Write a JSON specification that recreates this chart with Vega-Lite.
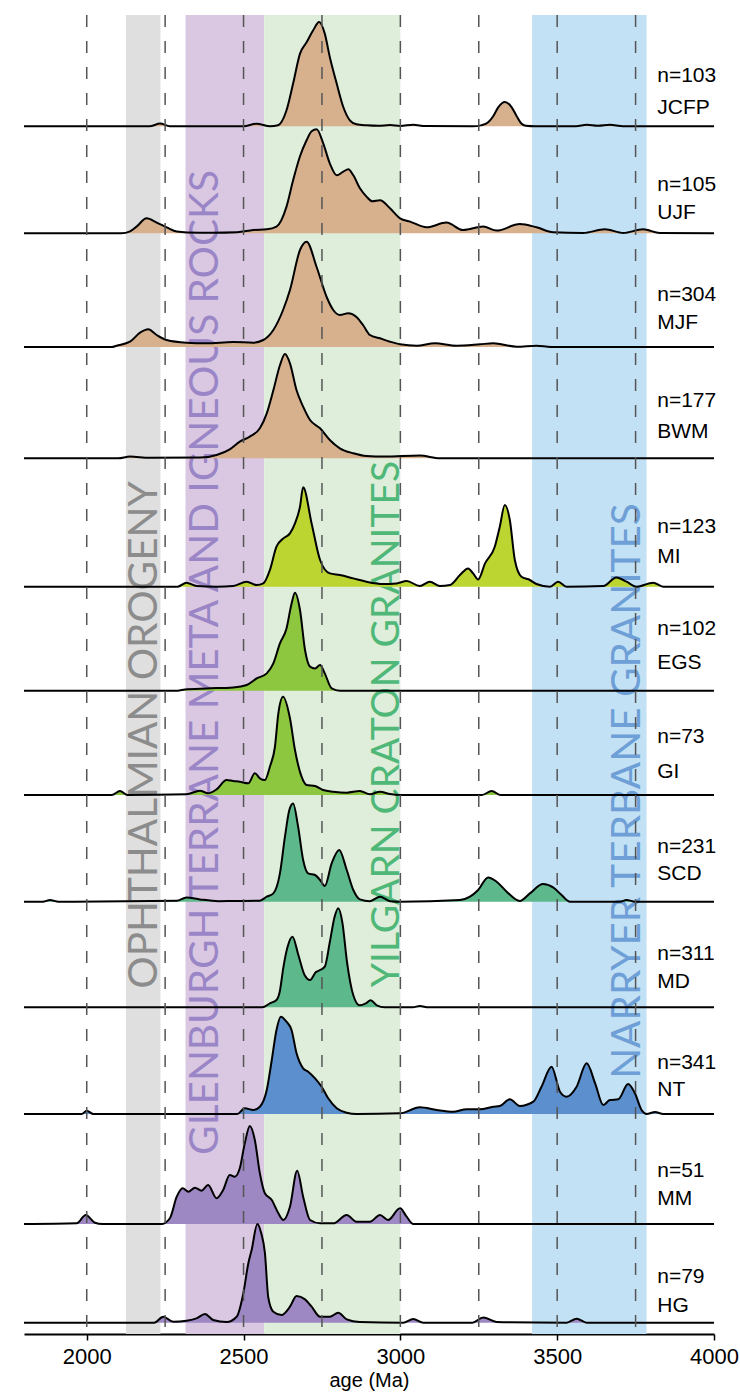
{
  "$schema": "https://vega.github.io/schema/vega-lite/v6.json",
  "width": 690,
  "height": 1319,
  "autosize": {"type": "none"},
  "padding": {"left": 24, "top": 15, "right": 26, "bottom": 62},
  "background": "white",
  "config": {
    "view": {"stroke": null},
    "axisX": {
      "grid": false,
      "domainColor": "black",
      "domainWidth": 2,
      "tickColor": "black",
      "tickWidth": 1.5,
      "tickSize": 6,
      "labelFlush": false,
      "labelFont": "Liberation Sans",
      "labelFontSize": 22,
      "labelColor": "black",
      "labelPadding": 6,
      "titleFont": "Liberation Sans",
      "titleFontSize": 20,
      "titleFontWeight": "normal",
      "titleColor": "black",
      "titlePadding": 3
    },
    "text": {"font": "Liberation Sans", "fontSize": 21, "color": "black", "align": "left", "baseline": "middle"}
  },
  "datasets": {
    "bands": [
      {"band": "OPHTHALMIAN OROGENY", "start": 2125, "end": 2235},
      {"band": "GLENBURGH TERRANE META AND IGNEOUS ROCKS", "start": 2315, "end": 2566},
      {"band": "YILGARN CRATON GRANITES", "start": 2566, "end": 3000},
      {"band": "NARRYER TERBANE GRANITES", "start": 3420, "end": 3785}
    ],
    "refs": [
      {"age": 2000}, {"age": 2250}, {"age": 2500}, {"age": 2750},
      {"age": 3000}, {"age": 3250}, {"age": 3500}, {"age": 3750}
    ],
    "samples": [
      {"sample": "JCFP", "n": "n=103"}, {"sample": "UJF", "n": "n=105"},
      {"sample": "MJF", "n": "n=304"}, {"sample": "BWM", "n": "n=177"},
      {"sample": "MI", "n": "n=123"}, {"sample": "EGS", "n": "n=102"},
      {"sample": "GI", "n": "n=73"}, {"sample": "SCD", "n": "n=231"},
      {"sample": "MD", "n": "n=311"}, {"sample": "NT", "n": "n=341"},
      {"sample": "MM", "n": "n=51"}, {"sample": "HG", "n": "n=79"}
    ],
    "curves": [
      {"sample":"JCFP","age":1800,"density":0},{"sample":"JCFP","age":2200,"density":0},{"sample":"JCFP","age":2234,"density":0.027},{"sample":"JCFP","age":2265,"density":0},{"sample":"JCFP","age":2500,"density":0},{"sample":"JCFP","age":2541,"density":0.025},{"sample":"JCFP","age":2585,"density":0},{"sample":"JCFP","age":2610,"density":0.01},{"sample":"JCFP","age":2637,"density":0.16},{"sample":"JCFP","age":2658,"density":0.427},{"sample":"JCFP","age":2680,"density":0.727},{"sample":"JCFP","age":2701,"density":0.84},{"sample":"JCFP","age":2722,"density":0.96},{"sample":"JCFP","age":2741,"density":1.043},{"sample":"JCFP","age":2759,"density":0.927},{"sample":"JCFP","age":2775,"density":0.693},{"sample":"JCFP","age":2797,"density":0.427},{"sample":"JCFP","age":2818,"density":0.193},{"sample":"JCFP","age":2839,"density":0.06},{"sample":"JCFP","age":2860,"density":0.02},{"sample":"JCFP","age":2892,"density":0.01},{"sample":"JCFP","age":2930,"density":0.005},{"sample":"JCFP","age":2967,"density":0.012},{"sample":"JCFP","age":3000,"density":0.004},{"sample":"JCFP","age":3041,"density":0.015},{"sample":"JCFP","age":3080,"density":0.002},{"sample":"JCFP","age":3230,"density":0},{"sample":"JCFP","age":3260,"density":0.012},{"sample":"JCFP","age":3280,"density":0.04},{"sample":"JCFP","age":3296,"density":0.1},{"sample":"JCFP","age":3312,"density":0.19},{"sample":"JCFP","age":3333,"density":0.243},{"sample":"JCFP","age":3355,"density":0.19},{"sample":"JCFP","age":3371,"density":0.1},{"sample":"JCFP","age":3385,"density":0.03},{"sample":"JCFP","age":3400,"density":0.005},{"sample":"JCFP","age":3430,"density":0},{"sample":"JCFP","age":3560,"density":0},{"sample":"JCFP","age":3594,"density":0.015},{"sample":"JCFP","age":3630,"density":0.005},{"sample":"JCFP","age":3668,"density":0.015},{"sample":"JCFP","age":3710,"density":0},{"sample":"JCFP","age":4000,"density":0},

      {"sample":"UJF","age":1800,"density":0},{"sample":"UJF","age":2110,"density":0},{"sample":"UJF","age":2138,"density":0.02},{"sample":"UJF","age":2159,"density":0.067},{"sample":"UJF","age":2191,"density":0.15},{"sample":"UJF","age":2223,"density":0.107},{"sample":"UJF","age":2255,"density":0.06},{"sample":"UJF","age":2287,"density":0.017},{"sample":"UJF","age":2320,"density":0.008},{"sample":"UJF","age":2400,"density":0.005},{"sample":"UJF","age":2480,"density":0.01},{"sample":"UJF","age":2531,"density":0.033},{"sample":"UJF","age":2574,"density":0.04},{"sample":"UJF","age":2605,"density":0.067},{"sample":"UJF","age":2637,"density":0.267},{"sample":"UJF","age":2658,"density":0.53},{"sample":"UJF","age":2680,"density":0.77},{"sample":"UJF","age":2701,"density":0.93},{"sample":"UJF","age":2717,"density":1.02},{"sample":"UJF","age":2733,"density":1.04},{"sample":"UJF","age":2754,"density":0.9},{"sample":"UJF","age":2775,"density":0.7},{"sample":"UJF","age":2797,"density":0.58},{"sample":"UJF","age":2818,"density":0.617},{"sample":"UJF","age":2834,"density":0.64},{"sample":"UJF","age":2850,"density":0.58},{"sample":"UJF","age":2871,"density":0.45},{"sample":"UJF","age":2892,"density":0.367},{"sample":"UJF","age":2910,"density":0.32},{"sample":"UJF","age":2935,"density":0.33},{"sample":"UJF","age":2967,"density":0.25},{"sample":"UJF","age":2999,"density":0.15},{"sample":"UJF","age":3031,"density":0.117},{"sample":"UJF","age":3084,"density":0.06},{"sample":"UJF","age":3147,"density":0.107},{"sample":"UJF","age":3200,"density":0.033},{"sample":"UJF","age":3264,"density":0.067},{"sample":"UJF","age":3307,"density":0.027},{"sample":"UJF","age":3381,"density":0.093},{"sample":"UJF","age":3434,"density":0.06},{"sample":"UJF","age":3487,"density":0.01},{"sample":"UJF","age":3583,"density":0.003},{"sample":"UJF","age":3652,"density":0.04},{"sample":"UJF","age":3711,"density":0.003},{"sample":"UJF","age":3774,"density":0.04},{"sample":"UJF","age":3827,"density":0.003},{"sample":"UJF","age":4000,"density":0},

      {"sample":"MJF","age":1800,"density":0},{"sample":"MJF","age":2080,"density":0},{"sample":"MJF","age":2095,"density":0.013},{"sample":"MJF","age":2138,"density":0.053},{"sample":"MJF","age":2170,"density":0.143},{"sample":"MJF","age":2196,"density":0.177},{"sample":"MJF","age":2223,"density":0.12},{"sample":"MJF","age":2255,"density":0.07},{"sample":"MJF","age":2318,"density":0.043},{"sample":"MJF","age":2382,"density":0.037},{"sample":"MJF","age":2467,"density":0.05},{"sample":"MJF","age":2531,"density":0.043},{"sample":"MJF","age":2563,"density":0.07},{"sample":"MJF","age":2595,"density":0.17},{"sample":"MJF","age":2626,"density":0.37},{"sample":"MJF","age":2648,"density":0.57},{"sample":"MJF","age":2680,"density":0.97},{"sample":"MJF","age":2701,"density":1.053},{"sample":"MJF","age":2733,"density":0.8},{"sample":"MJF","age":2765,"density":0.5},{"sample":"MJF","age":2786,"density":0.37},{"sample":"MJF","age":2807,"density":0.32},{"sample":"MJF","age":2834,"density":0.337},{"sample":"MJF","age":2860,"density":0.3},{"sample":"MJF","age":2881,"density":0.22},{"sample":"MJF","age":2903,"density":0.12},{"sample":"MJF","age":2935,"density":0.087},{"sample":"MJF","age":2967,"density":0.053},{"sample":"MJF","age":2999,"density":0.027},{"sample":"MJF","age":3052,"density":0.013},{"sample":"MJF","age":3110,"density":0.037},{"sample":"MJF","age":3179,"density":0.013},{"sample":"MJF","age":3254,"density":0.027},{"sample":"MJF","age":3296,"density":0.037},{"sample":"MJF","age":3371,"density":0.003},{"sample":"MJF","age":3434,"density":0.013},{"sample":"MJF","age":3480,"density":0},{"sample":"MJF","age":4000,"density":0},

      {"sample":"BWM","age":1800,"density":0},{"sample":"BWM","age":2100,"density":0},{"sample":"BWM","age":2138,"density":0.017},{"sample":"BWM","age":2200,"density":0.005},{"sample":"BWM","age":2361,"density":0.007},{"sample":"BWM","age":2414,"density":0.033},{"sample":"BWM","age":2456,"density":0.09},{"sample":"BWM","age":2488,"density":0.167},{"sample":"BWM","age":2520,"density":0.217},{"sample":"BWM","age":2552,"density":0.3},{"sample":"BWM","age":2574,"density":0.45},{"sample":"BWM","age":2595,"density":0.68},{"sample":"BWM","age":2616,"density":0.93},{"sample":"BWM","age":2632,"density":1.043},{"sample":"BWM","age":2648,"density":0.95},{"sample":"BWM","age":2669,"density":0.68},{"sample":"BWM","age":2690,"density":0.517},{"sample":"BWM","age":2712,"density":0.383},{"sample":"BWM","age":2744,"density":0.3},{"sample":"BWM","age":2775,"density":0.183},{"sample":"BWM","age":2807,"density":0.1},{"sample":"BWM","age":2850,"density":0.05},{"sample":"BWM","age":2892,"density":0.023},{"sample":"BWM","age":2950,"density":0.017},{"sample":"BWM","age":3062,"density":0.027},{"sample":"BWM","age":3126,"density":0},{"sample":"BWM","age":4000,"density":0},

      {"sample":"MI","age":1800,"density":0},{"sample":"MI","age":2290,"density":0},{"sample":"MI","age":2318,"density":0.04},{"sample":"MI","age":2350,"density":0.007},{"sample":"MI","age":2414,"density":0},{"sample":"MI","age":2467,"density":0.007},{"sample":"MI","age":2510,"density":0.05},{"sample":"MI","age":2542,"density":0.017},{"sample":"MI","age":2563,"density":0.033},{"sample":"MI","age":2584,"density":0.167},{"sample":"MI","age":2605,"density":0.4},{"sample":"MI","age":2627,"density":0.483},{"sample":"MI","age":2648,"density":0.533},{"sample":"MI","age":2664,"density":0.633},{"sample":"MI","age":2680,"density":0.8},{"sample":"MI","age":2690,"density":0.994},{"sample":"MI","age":2717,"density":0.633},{"sample":"MI","age":2744,"density":0.267},{"sample":"MI","age":2775,"density":0.133},{"sample":"MI","age":2807,"density":0.117},{"sample":"MI","age":2850,"density":0.083},{"sample":"MI","age":2892,"density":0.05},{"sample":"MI","age":2945,"density":0.027},{"sample":"MI","age":2988,"density":0.033},{"sample":"MI","age":3020,"density":0.057},{"sample":"MI","age":3062,"density":0.007},{"sample":"MI","age":3094,"density":0.05},{"sample":"MI","age":3126,"density":0.007},{"sample":"MI","age":3158,"density":0.017},{"sample":"MI","age":3190,"density":0.117},{"sample":"MI","age":3216,"density":0.183},{"sample":"MI","age":3232,"density":0.133},{"sample":"MI","age":3248,"density":0.073},{"sample":"MI","age":3270,"density":0.233},{"sample":"MI","age":3301,"density":0.4},{"sample":"MI","age":3317,"density":0.6},{"sample":"MI","age":3333,"density":0.817},{"sample":"MI","age":3349,"density":0.667},{"sample":"MI","age":3365,"density":0.267},{"sample":"MI","age":3386,"density":0.1},{"sample":"MI","age":3413,"density":0.067},{"sample":"MI","age":3434,"density":0.027},{"sample":"MI","age":3477,"density":0},{"sample":"MI","age":3503,"density":0.05},{"sample":"MI","age":3530,"density":0},{"sample":"MI","age":3647,"density":0.007},{"sample":"MI","age":3689,"density":0.093},{"sample":"MI","age":3721,"density":0.05},{"sample":"MI","age":3753,"density":0},{"sample":"MI","age":3806,"density":0.04},{"sample":"MI","age":3838,"density":0},{"sample":"MI","age":4000,"density":0},

      {"sample":"EGS","age":1800,"density":0},{"sample":"EGS","age":2290,"density":0},{"sample":"EGS","age":2313,"density":0.013},{"sample":"EGS","age":2382,"density":0.023},{"sample":"EGS","age":2467,"density":0.033},{"sample":"EGS","age":2510,"density":0.057},{"sample":"EGS","age":2542,"density":0.123},{"sample":"EGS","age":2574,"density":0.173},{"sample":"EGS","age":2595,"density":0.273},{"sample":"EGS","age":2616,"density":0.473},{"sample":"EGS","age":2637,"density":0.623},{"sample":"EGS","age":2653,"density":0.87},{"sample":"EGS","age":2664,"density":0.98},{"sample":"EGS","age":2680,"density":0.807},{"sample":"EGS","age":2696,"density":0.407},{"sample":"EGS","age":2712,"density":0.24},{"sample":"EGS","age":2728,"density":0.223},{"sample":"EGS","age":2744,"density":0.257},{"sample":"EGS","age":2759,"density":0.173},{"sample":"EGS","age":2781,"density":0.023},{"sample":"EGS","age":2807,"density":0},{"sample":"EGS","age":4000,"density":0},

      {"sample":"GI","age":1800,"density":0},{"sample":"GI","age":2080,"density":0},{"sample":"GI","age":2106,"density":0.04},{"sample":"GI","age":2130,"density":0},{"sample":"GI","age":2318,"density":0.007},{"sample":"GI","age":2361,"density":0.043},{"sample":"GI","age":2387,"density":0.017},{"sample":"GI","age":2414,"density":0.057},{"sample":"GI","age":2446,"density":0.15},{"sample":"GI","age":2467,"density":0.14},{"sample":"GI","age":2488,"density":0.133},{"sample":"GI","age":2515,"density":0.117},{"sample":"GI","age":2536,"density":0.217},{"sample":"GI","age":2552,"density":0.167},{"sample":"GI","age":2568,"density":0.15},{"sample":"GI","age":2584,"density":0.283},{"sample":"GI","age":2600,"density":0.48},{"sample":"GI","age":2611,"density":0.817},{"sample":"GI","age":2626,"density":0.983},{"sample":"GI","age":2648,"density":0.767},{"sample":"GI","age":2664,"density":0.45},{"sample":"GI","age":2685,"density":0.183},{"sample":"GI","age":2701,"density":0.1},{"sample":"GI","age":2728,"density":0.09},{"sample":"GI","age":2754,"density":0.05},{"sample":"GI","age":2786,"density":0.033},{"sample":"GI","age":2829,"density":0.023},{"sample":"GI","age":2871,"density":0.04},{"sample":"GI","age":2903,"density":0.007},{"sample":"GI","age":2935,"density":0.033},{"sample":"GI","age":2967,"density":0.01},{"sample":"GI","age":3000,"density":0},{"sample":"GI","age":3260,"density":0},{"sample":"GI","age":3291,"density":0.04},{"sample":"GI","age":3320,"density":0},{"sample":"GI","age":4000,"density":0},

      {"sample":"SCD","age":1800,"density":0},{"sample":"SCD","age":1860,"density":0},{"sample":"SCD","age":1883,"density":0.017},{"sample":"SCD","age":1910,"density":0},{"sample":"SCD","age":2287,"density":0.01},{"sample":"SCD","age":2318,"density":0.043},{"sample":"SCD","age":2361,"density":0.023},{"sample":"SCD","age":2420,"density":0.005},{"sample":"SCD","age":2467,"density":0.007},{"sample":"SCD","age":2552,"density":0.01},{"sample":"SCD","age":2574,"density":0.05},{"sample":"SCD","age":2595,"density":0.083},{"sample":"SCD","age":2616,"density":0.283},{"sample":"SCD","age":2632,"density":0.65},{"sample":"SCD","age":2646,"density":0.917},{"sample":"SCD","age":2658,"density":0.983},{"sample":"SCD","age":2674,"density":0.75},{"sample":"SCD","age":2690,"density":0.417},{"sample":"SCD","age":2706,"density":0.283},{"sample":"SCD","age":2728,"density":0.267},{"sample":"SCD","age":2744,"density":0.217},{"sample":"SCD","age":2759,"density":0.157},{"sample":"SCD","age":2781,"density":0.383},{"sample":"SCD","age":2805,"density":0.517},{"sample":"SCD","age":2829,"density":0.317},{"sample":"SCD","age":2850,"density":0.117},{"sample":"SCD","age":2871,"density":0.023},{"sample":"SCD","age":2903,"density":0.005},{"sample":"SCD","age":2935,"density":0.05},{"sample":"SCD","age":2967,"density":0.005},{"sample":"SCD","age":3000,"density":0},{"sample":"SCD","age":3190,"density":0.017},{"sample":"SCD","age":3222,"density":0.05},{"sample":"SCD","age":3248,"density":0.117},{"sample":"SCD","age":3280,"density":0.243},{"sample":"SCD","age":3307,"density":0.2},{"sample":"SCD","age":3339,"density":0.1},{"sample":"SCD","age":3381,"density":0.007},{"sample":"SCD","age":3413,"density":0.083},{"sample":"SCD","age":3455,"density":0.177},{"sample":"SCD","age":3487,"density":0.143},{"sample":"SCD","age":3514,"density":0.067},{"sample":"SCD","age":3541,"density":0},{"sample":"SCD","age":3700,"density":0},{"sample":"SCD","age":3721,"density":0.017},{"sample":"SCD","age":3750,"density":0},{"sample":"SCD","age":4000,"density":0},

      {"sample":"MD","age":1800,"density":0},{"sample":"MD","age":2560,"density":0},{"sample":"MD","age":2584,"density":0.04},{"sample":"MD","age":2605,"density":0.073},{"sample":"MD","age":2615,"density":0.15},{"sample":"MD","age":2627,"density":0.4},{"sample":"MD","age":2640,"density":0.6},{"sample":"MD","age":2656,"density":0.706},{"sample":"MD","age":2675,"density":0.52},{"sample":"MD","age":2695,"density":0.32},{"sample":"MD","age":2712,"density":0.273},{"sample":"MD","age":2730,"density":0.35},{"sample":"MD","age":2744,"density":0.373},{"sample":"MD","age":2759,"density":0.406},{"sample":"MD","age":2775,"density":0.65},{"sample":"MD","age":2790,"density":0.9},{"sample":"MD","age":2802,"density":0.99},{"sample":"MD","age":2815,"density":0.85},{"sample":"MD","age":2830,"density":0.45},{"sample":"MD","age":2850,"density":0.12},{"sample":"MD","age":2870,"density":0.02},{"sample":"MD","age":2890,"density":0.04},{"sample":"MD","age":2905,"density":0.07},{"sample":"MD","age":2925,"density":0.02},{"sample":"MD","age":2950,"density":0},{"sample":"MD","age":3040,"density":0},{"sample":"MD","age":3062,"density":0.013},{"sample":"MD","age":3090,"density":0},{"sample":"MD","age":4000,"density":0},

      {"sample":"NT","age":1800,"density":0},{"sample":"NT","age":1984,"density":0},{"sample":"NT","age":2000,"density":0.033},{"sample":"NT","age":2021,"density":0},{"sample":"NT","age":2480,"density":0},{"sample":"NT","age":2504,"density":0.057},{"sample":"NT","age":2531,"density":0.04},{"sample":"NT","age":2552,"density":0.073},{"sample":"NT","age":2574,"density":0.24},{"sample":"NT","age":2590,"density":0.54},{"sample":"NT","age":2605,"density":0.84},{"sample":"NT","age":2619,"density":0.973},{"sample":"NT","age":2637,"density":0.923},{"sample":"NT","age":2653,"density":0.84},{"sample":"NT","age":2669,"density":0.607},{"sample":"NT","age":2690,"density":0.457},{"sample":"NT","age":2706,"density":0.423},{"sample":"NT","age":2728,"density":0.357},{"sample":"NT","age":2749,"density":0.273},{"sample":"NT","age":2770,"density":0.157},{"sample":"NT","age":2797,"density":0.057},{"sample":"NT","age":2829,"density":0.013},{"sample":"NT","age":2860,"density":0},{"sample":"NT","age":2999,"density":0.007},{"sample":"NT","age":3062,"density":0.067},{"sample":"NT","age":3116,"density":0.04},{"sample":"NT","age":3168,"density":0.023},{"sample":"NT","age":3211,"density":0.047},{"sample":"NT","age":3254,"density":0.047},{"sample":"NT","age":3296,"density":0.073},{"sample":"NT","age":3317,"density":0.08},{"sample":"NT","age":3349,"density":0.147},{"sample":"NT","age":3381,"density":0.08},{"sample":"NT","age":3424,"density":0.123},{"sample":"NT","age":3450,"density":0.273},{"sample":"NT","age":3482,"density":0.473},{"sample":"NT","age":3509,"density":0.223},{"sample":"NT","age":3530,"density":0.173},{"sample":"NT","age":3562,"density":0.273},{"sample":"NT","age":3594,"density":0.507},{"sample":"NT","age":3621,"density":0.307},{"sample":"NT","age":3647,"density":0.09},{"sample":"NT","age":3668,"density":0.14},{"sample":"NT","age":3695,"density":0.147},{"sample":"NT","age":3726,"density":0.3},{"sample":"NT","age":3748,"density":0.207},{"sample":"NT","age":3769,"density":0.04},{"sample":"NT","age":3785,"density":0},{"sample":"NT","age":3812,"density":0.02},{"sample":"NT","age":3838,"density":0},{"sample":"NT","age":4000,"density":0},

      {"sample":"MM","age":1800,"density":0},{"sample":"MM","age":1968,"density":0.007},{"sample":"MM","age":1997,"density":0.09},{"sample":"MM","age":2026,"density":0.013},{"sample":"MM","age":2050,"density":0},{"sample":"MM","age":2240,"density":0},{"sample":"MM","age":2265,"density":0.057},{"sample":"MM","age":2287,"density":0.273},{"sample":"MM","age":2306,"density":0.357},{"sample":"MM","age":2324,"density":0.323},{"sample":"MM","age":2345,"density":0.363},{"sample":"MM","age":2366,"density":0.333},{"sample":"MM","age":2387,"density":0.39},{"sample":"MM","age":2414,"density":0.257},{"sample":"MM","age":2435,"density":0.34},{"sample":"MM","age":2456,"density":0.49},{"sample":"MM","age":2472,"density":0.473},{"sample":"MM","age":2488,"density":0.557},{"sample":"MM","age":2504,"density":0.807},{"sample":"MM","age":2520,"density":0.98},{"sample":"MM","age":2536,"density":0.84},{"sample":"MM","age":2552,"density":0.507},{"sample":"MM","age":2568,"density":0.307},{"sample":"MM","age":2590,"density":0.24},{"sample":"MM","age":2611,"density":0.107},{"sample":"MM","age":2627,"density":0.04},{"sample":"MM","age":2648,"density":0.173},{"sample":"MM","age":2671,"density":0.533},{"sample":"MM","age":2690,"density":0.273},{"sample":"MM","age":2712,"density":0.04},{"sample":"MM","age":2744,"density":0.007},{"sample":"MM","age":2786,"density":0.007},{"sample":"MM","age":2829,"density":0.09},{"sample":"MM","age":2860,"density":0.023},{"sample":"MM","age":2903,"density":0.023},{"sample":"MM","age":2935,"density":0.09},{"sample":"MM","age":2961,"density":0.04},{"sample":"MM","age":2999,"density":0.157},{"sample":"MM","age":3020,"density":0.073},{"sample":"MM","age":3041,"density":0},{"sample":"MM","age":4000,"density":0},

      {"sample":"HG","age":1800,"density":0},{"sample":"HG","age":2215,"density":0},{"sample":"HG","age":2244,"density":0.06},{"sample":"HG","age":2276,"density":0.01},{"sample":"HG","age":2318,"density":0.02},{"sample":"HG","age":2350,"density":0.043},{"sample":"HG","age":2377,"density":0.087},{"sample":"HG","age":2403,"density":0.027},{"sample":"HG","age":2446,"density":0.007},{"sample":"HG","age":2478,"density":0.06},{"sample":"HG","age":2499,"density":0.29},{"sample":"HG","age":2515,"density":0.59},{"sample":"HG","age":2526,"density":0.73},{"sample":"HG","age":2544,"density":0.987},{"sample":"HG","age":2556,"density":0.9},{"sample":"HG","age":2568,"density":0.7},{"sample":"HG","age":2579,"density":0.25},{"sample":"HG","age":2595,"density":0.11},{"sample":"HG","age":2621,"density":0.077},{"sample":"HG","age":2648,"density":0.16},{"sample":"HG","age":2669,"density":0.267},{"sample":"HG","age":2696,"density":0.233},{"sample":"HG","age":2717,"density":0.16},{"sample":"HG","age":2744,"density":0.06},{"sample":"HG","age":2775,"density":0.06},{"sample":"HG","age":2802,"density":0.1},{"sample":"HG","age":2829,"density":0.033},{"sample":"HG","age":2870,"density":0.007},{"sample":"HG","age":3009,"density":0},{"sample":"HG","age":3041,"density":0.037},{"sample":"HG","age":3073,"density":0},{"sample":"HG","age":3230,"density":0},{"sample":"HG","age":3264,"density":0.053},{"sample":"HG","age":3307,"density":0.007},{"sample":"HG","age":3530,"density":0},{"sample":"HG","age":3562,"density":0.04},{"sample":"HG","age":3594,"density":0},{"sample":"HG","age":4000,"density":0}
    ]
  },
  "resolve": {"scale": {"y": "independent"}},
  "layer": [
    {
      "data": {"name": "bands"},
      "mark": {"type": "rect"},
      "encoding": {
        "x": {"field": "start", "type": "quantitative", "scale": {"domain": [1800, 4000], "nice": false}, "title": "age (Ma)", "axis": {"values": [2000, 2500, 3000, 3500, 4000], "format": "d"}},
        "x2": {"field": "end"},
        "color": {
          "field": "band", "type": "nominal", "legend": null,
          "scale": {
            "domain": ["OPHTHALMIAN OROGENY", "GLENBURGH TERRANE META AND IGNEOUS ROCKS", "YILGARN CRATON GRANITES", "NARRYER TERBANE GRANITES"],
            "range": ["#dfdfdf", "#dac8e3", "#deeeda", "#c3e1f5"]
          }
        }
      }
    },
    {
      "data": {"name": "bands"},
      "encoding": {
        "x": {"type": "quantitative", "scale": {"domain": [1800, 4000], "nice": false}, "title": "age (Ma)", "axis": {"values": [2000, 2500, 3000, 3500, 4000], "format": "d"}},
        "y": {"type": "quantitative", "scale": {"domain": [0, 13.19], "nice": false, "zero": false}, "axis": null}
      },
      "layer": [
        {"transform": [{"filter": "datum.start === 2125"}],
         "mark": {"type": "text", "angle": 270, "align": "center", "baseline": "alphabetic", "font": "Lato", "fontSize": 40.5, "color": "#8c8c8c"},
         "encoding": {"text": {"field": "band"}, "x": {"datum": 2224, "type": "quantitative"}, "y": {"datum": 5.99, "type": "quantitative"}}},
        {"transform": [{"filter": "datum.start === 2315"}],
         "mark": {"type": "text", "angle": 270, "align": "center", "baseline": "alphabetic", "font": "Lato", "fontSize": 40.5, "color": "#9a86c6"},
         "encoding": {"text": {"field": "band"}, "x": {"datum": 2418, "type": "quantitative"}, "y": {"datum": 6.715, "type": "quantitative"}}},
        {"transform": [{"filter": "datum.start === 2566"}],
         "mark": {"type": "text", "angle": 270, "align": "center", "baseline": "alphabetic", "font": "Lato", "fontSize": 39, "color": "#4fb878"},
         "encoding": {"text": {"field": "band"}, "x": {"datum": 2997, "type": "quantitative"}, "y": {"datum": 6.1, "type": "quantitative"}}},
        {"transform": [{"filter": "datum.start === 3420"}],
         "mark": {"type": "text", "angle": 270, "align": "center", "baseline": "alphabetic", "font": "Lato", "fontSize": 40.5, "color": "#6e9fd6"},
         "encoding": {"text": {"field": "band"}, "x": {"datum": 3764, "type": "quantitative"}, "y": {"datum": 5.43, "type": "quantitative"}}}
      ]
    },
    {
      "data": {"name": "curves"},
      "transform": [{"filter": "datum.sample === 'JCFP'"}],
      "encoding": {
        "x": {"field": "age", "type": "quantitative", "scale": {"domain": [1800, 4000], "nice": false}, "title": "age (Ma)", "axis": {"values": [2000, 2500, 3000, 3500, 4000], "format": "d"}},
        "y": {"field": "density", "type": "quantitative", "scale": {"domain": [-12.077, 1.113], "nice": false, "zero": false}, "axis": null}
      },
      "layer": [
        {"mark": {"type": "area", "interpolate": "monotone", "color": "#d7b18e"}, "encoding": {"y2": {"datum": 0}}},
        {"mark": {"type": "line", "interpolate": "monotone", "color": "black", "strokeWidth": 2}},
        {"transform": [{"filter": "datum.age === 4000"}, {"lookup": "sample", "from": {"data": {"name": "samples"}, "key": "sample", "fields": ["n"]}}],
         "layer": [
           {"mark": "text", "encoding": {"text": {"field": "n"}, "x": {"datum": 3819, "type": "quantitative"}, "y": {"datum": 0.5, "type": "quantitative"}}},
           {"mark": "text", "encoding": {"text": {"field": "sample"}, "x": {"datum": 3819, "type": "quantitative"}, "y": {"datum": 0.18, "type": "quantitative"}}}
         ]}
      ]
    },
    {
      "data": {"name": "curves"},
      "transform": [{"filter": "datum.sample === 'UJF'"}],
      "encoding": {
        "x": {"field": "age", "type": "quantitative", "scale": {"domain": [1800, 4000], "nice": false}, "title": "age (Ma)", "axis": {"values": [2000, 2500, 3000, 3500, 4000], "format": "d"}},
        "y": {"field": "density", "type": "quantitative", "scale": {"domain": [-11.007, 2.183], "nice": false, "zero": false}, "axis": null}
      },
      "layer": [
        {"mark": {"type": "area", "interpolate": "monotone", "color": "#d7b18e"}, "encoding": {"y2": {"datum": 0}}},
        {"mark": {"type": "line", "interpolate": "monotone", "color": "black", "strokeWidth": 2}},
        {"transform": [{"filter": "datum.age === 4000"}, {"lookup": "sample", "from": {"data": {"name": "samples"}, "key": "sample", "fields": ["n"]}}],
         "layer": [
           {"mark": "text", "encoding": {"text": {"field": "n"}, "x": {"datum": 3819, "type": "quantitative"}, "y": {"datum": 0.48, "type": "quantitative"}}},
           {"mark": "text", "encoding": {"text": {"field": "sample"}, "x": {"datum": 3819, "type": "quantitative"}, "y": {"datum": 0.2, "type": "quantitative"}}}
         ]}
      ]
    },
    {
      "data": {"name": "curves"},
      "transform": [{"filter": "datum.sample === 'MJF'"}],
      "encoding": {
        "x": {"field": "age", "type": "quantitative", "scale": {"domain": [1800, 4000], "nice": false}, "title": "age (Ma)", "axis": {"values": [2000, 2500, 3000, 3500, 4000], "format": "d"}},
        "y": {"field": "density", "type": "quantitative", "scale": {"domain": [-9.87, 3.32], "nice": false, "zero": false}, "axis": null}
      },
      "layer": [
        {"mark": {"type": "area", "interpolate": "monotone", "color": "#d7b18e"}, "encoding": {"y2": {"datum": 0}}},
        {"mark": {"type": "line", "interpolate": "monotone", "color": "black", "strokeWidth": 2}},
        {"transform": [{"filter": "datum.age === 4000"}, {"lookup": "sample", "from": {"data": {"name": "samples"}, "key": "sample", "fields": ["n"]}}],
         "layer": [
           {"mark": "text", "encoding": {"text": {"field": "n"}, "x": {"datum": 3819, "type": "quantitative"}, "y": {"datum": 0.52, "type": "quantitative"}}},
           {"mark": "text", "encoding": {"text": {"field": "sample"}, "x": {"datum": 3819, "type": "quantitative"}, "y": {"datum": 0.237, "type": "quantitative"}}}
         ]}
      ]
    },
    {
      "data": {"name": "curves"},
      "transform": [{"filter": "datum.sample === 'BWM'"}],
      "encoding": {
        "x": {"field": "age", "type": "quantitative", "scale": {"domain": [1800, 4000], "nice": false}, "title": "age (Ma)", "axis": {"values": [2000, 2500, 3000, 3500, 4000], "format": "d"}},
        "y": {"field": "density", "type": "quantitative", "scale": {"domain": [-8.757, 4.433], "nice": false, "zero": false}, "axis": null}
      },
      "layer": [
        {"mark": {"type": "area", "interpolate": "monotone", "color": "#d7b18e"}, "encoding": {"y2": {"datum": 0}}},
        {"mark": {"type": "line", "interpolate": "monotone", "color": "black", "strokeWidth": 2}},
        {"transform": [{"filter": "datum.age === 4000"}, {"lookup": "sample", "from": {"data": {"name": "samples"}, "key": "sample", "fields": ["n"]}}],
         "layer": [
           {"mark": "text", "encoding": {"text": {"field": "n"}, "x": {"datum": 3819, "type": "quantitative"}, "y": {"datum": 0.576, "type": "quantitative"}}},
           {"mark": "text", "encoding": {"text": {"field": "sample"}, "x": {"datum": 3819, "type": "quantitative"}, "y": {"datum": 0.266, "type": "quantitative"}}}
         ]}
      ]
    },
    {
      "data": {"name": "curves"},
      "transform": [{"filter": "datum.sample === 'MI'"}],
      "encoding": {
        "x": {"field": "age", "type": "quantitative", "scale": {"domain": [1800, 4000], "nice": false}, "title": "age (Ma)", "axis": {"values": [2000, 2500, 3000, 3500, 4000], "format": "d"}},
        "y": {"field": "density", "type": "quantitative", "scale": {"domain": [-7.473, 5.717], "nice": false, "zero": false}, "axis": null}
      },
      "layer": [
        {"mark": {"type": "area", "interpolate": "monotone", "color": "#bdd530"}, "encoding": {"y2": {"datum": 0}}},
        {"mark": {"type": "line", "interpolate": "monotone", "color": "black", "strokeWidth": 2}},
        {"transform": [{"filter": "datum.age === 4000"}, {"lookup": "sample", "from": {"data": {"name": "samples"}, "key": "sample", "fields": ["n"]}}],
         "layer": [
           {"mark": "text", "encoding": {"text": {"field": "n"}, "x": {"datum": 3819, "type": "quantitative"}, "y": {"datum": 0.6, "type": "quantitative"}}},
           {"mark": "text", "encoding": {"text": {"field": "sample"}, "x": {"datum": 3819, "type": "quantitative"}, "y": {"datum": 0.3, "type": "quantitative"}}}
         ]}
      ]
    },
    {
      "data": {"name": "curves"},
      "transform": [{"filter": "datum.sample === 'EGS'"}],
      "encoding": {
        "x": {"field": "age", "type": "quantitative", "scale": {"domain": [1800, 4000], "nice": false}, "title": "age (Ma)", "axis": {"values": [2000, 2500, 3000, 3500, 4000], "format": "d"}},
        "y": {"field": "density", "type": "quantitative", "scale": {"domain": [-6.433, 6.757], "nice": false, "zero": false}, "axis": null}
      },
      "layer": [
        {"mark": {"type": "area", "interpolate": "monotone", "color": "#8dc63f"}, "encoding": {"y2": {"datum": 0}}},
        {"mark": {"type": "line", "interpolate": "monotone", "color": "black", "strokeWidth": 2}},
        {"transform": [{"filter": "datum.age === 4000"}, {"lookup": "sample", "from": {"data": {"name": "samples"}, "key": "sample", "fields": ["n"]}}],
         "layer": [
           {"mark": "text", "encoding": {"text": {"field": "n"}, "x": {"datum": 3819, "type": "quantitative"}, "y": {"datum": 0.62, "type": "quantitative"}}},
           {"mark": "text", "encoding": {"text": {"field": "sample"}, "x": {"datum": 3819, "type": "quantitative"}, "y": {"datum": 0.28, "type": "quantitative"}}}
         ]}
      ]
    },
    {
      "data": {"name": "curves"},
      "transform": [{"filter": "datum.sample === 'GI'"}],
      "encoding": {
        "x": {"field": "age", "type": "quantitative", "scale": {"domain": [1800, 4000], "nice": false}, "title": "age (Ma)", "axis": {"values": [2000, 2500, 3000, 3500, 4000], "format": "d"}},
        "y": {"field": "density", "type": "quantitative", "scale": {"domain": [-5.39, 7.8], "nice": false, "zero": false}, "axis": null}
      },
      "layer": [
        {"mark": {"type": "area", "interpolate": "monotone", "color": "#8dc63f"}, "encoding": {"y2": {"datum": 0}}},
        {"mark": {"type": "line", "interpolate": "monotone", "color": "black", "strokeWidth": 2}},
        {"transform": [{"filter": "datum.age === 4000"}, {"lookup": "sample", "from": {"data": {"name": "samples"}, "key": "sample", "fields": ["n"]}}],
         "layer": [
           {"mark": "text", "encoding": {"text": {"field": "n"}, "x": {"datum": 3819, "type": "quantitative"}, "y": {"datum": 0.577, "type": "quantitative"}}},
           {"mark": "text", "encoding": {"text": {"field": "sample"}, "x": {"datum": 3819, "type": "quantitative"}, "y": {"datum": 0.233, "type": "quantitative"}}}
         ]}
      ]
    },
    {
      "data": {"name": "curves"},
      "transform": [{"filter": "datum.sample === 'SCD'"}],
      "encoding": {
        "x": {"field": "age", "type": "quantitative", "scale": {"domain": [1800, 4000], "nice": false}, "title": "age (Ma)", "axis": {"values": [2000, 2500, 3000, 3500, 4000], "format": "d"}},
        "y": {"field": "density", "type": "quantitative", "scale": {"domain": [-4.323, 8.867], "nice": false, "zero": false}, "axis": null}
      },
      "layer": [
        {"mark": {"type": "area", "interpolate": "monotone", "color": "#5db98b"}, "encoding": {"y2": {"datum": 0}}},
        {"mark": {"type": "line", "interpolate": "monotone", "color": "black", "strokeWidth": 2}},
        {"transform": [{"filter": "datum.age === 4000"}, {"lookup": "sample", "from": {"data": {"name": "samples"}, "key": "sample", "fields": ["n"]}}],
         "layer": [
           {"mark": "text", "encoding": {"text": {"field": "n"}, "x": {"datum": 3819, "type": "quantitative"}, "y": {"datum": 0.55, "type": "quantitative"}}},
           {"mark": "text", "encoding": {"text": {"field": "sample"}, "x": {"datum": 3819, "type": "quantitative"}, "y": {"datum": 0.277, "type": "quantitative"}}}
         ]}
      ]
    },
    {
      "data": {"name": "curves"},
      "transform": [{"filter": "datum.sample === 'MD'"}],
      "encoding": {
        "x": {"field": "age", "type": "quantitative", "scale": {"domain": [1800, 4000], "nice": false}, "title": "age (Ma)", "axis": {"values": [2000, 2500, 3000, 3500, 4000], "format": "d"}},
        "y": {"field": "density", "type": "quantitative", "scale": {"domain": [-3.267, 9.923], "nice": false, "zero": false}, "axis": null}
      },
      "layer": [
        {"mark": {"type": "area", "interpolate": "monotone", "color": "#5db98b"}, "encoding": {"y2": {"datum": 0}}},
        {"mark": {"type": "line", "interpolate": "monotone", "color": "black", "strokeWidth": 2}},
        {"transform": [{"filter": "datum.age === 4000"}, {"lookup": "sample", "from": {"data": {"name": "samples"}, "key": "sample", "fields": ["n"]}}],
         "layer": [
           {"mark": "text", "encoding": {"text": {"field": "n"}, "x": {"datum": 3819, "type": "quantitative"}, "y": {"datum": 0.533, "type": "quantitative"}}},
           {"mark": "text", "encoding": {"text": {"field": "sample"}, "x": {"datum": 3819, "type": "quantitative"}, "y": {"datum": 0.256, "type": "quantitative"}}}
         ]}
      ]
    },
    {
      "data": {"name": "curves"},
      "transform": [{"filter": "datum.sample === 'NT'"}],
      "encoding": {
        "x": {"field": "age", "type": "quantitative", "scale": {"domain": [1800, 4000], "nice": false}, "title": "age (Ma)", "axis": {"values": [2000, 2500, 3000, 3500, 4000], "format": "d"}},
        "y": {"field": "density", "type": "quantitative", "scale": {"domain": [-2.2, 10.99], "nice": false, "zero": false}, "axis": null}
      },
      "layer": [
        {"mark": {"type": "area", "interpolate": "monotone", "color": "#5b8fcd"}, "encoding": {"y2": {"datum": 0}}},
        {"mark": {"type": "line", "interpolate": "monotone", "color": "black", "strokeWidth": 2}},
        {"transform": [{"filter": "datum.age === 4000"}, {"lookup": "sample", "from": {"data": {"name": "samples"}, "key": "sample", "fields": ["n"]}}],
         "layer": [
           {"mark": "text", "encoding": {"text": {"field": "n"}, "x": {"datum": 3819, "type": "quantitative"}, "y": {"datum": 0.513, "type": "quantitative"}}},
           {"mark": "text", "encoding": {"text": {"field": "sample"}, "x": {"datum": 3819, "type": "quantitative"}, "y": {"datum": 0.24, "type": "quantitative"}}}
         ]}
      ]
    },
    {
      "data": {"name": "curves"},
      "transform": [{"filter": "datum.sample === 'MM'"}],
      "encoding": {
        "x": {"field": "age", "type": "quantitative", "scale": {"domain": [1800, 4000], "nice": false}, "title": "age (Ma)", "axis": {"values": [2000, 2500, 3000, 3500, 4000], "format": "d"}},
        "y": {"field": "density", "type": "quantitative", "scale": {"domain": [-1.1, 12.09], "nice": false, "zero": false}, "axis": null}
      },
      "layer": [
        {"mark": {"type": "area", "interpolate": "monotone", "color": "#9e88c3"}, "encoding": {"y2": {"datum": 0}}},
        {"mark": {"type": "line", "interpolate": "monotone", "color": "black", "strokeWidth": 2}},
        {"transform": [{"filter": "datum.age === 4000"}, {"lookup": "sample", "from": {"data": {"name": "samples"}, "key": "sample", "fields": ["n"]}}],
         "layer": [
           {"mark": "text", "encoding": {"text": {"field": "n"}, "x": {"datum": 3819, "type": "quantitative"}, "y": {"datum": 0.533, "type": "quantitative"}}},
           {"mark": "text", "encoding": {"text": {"field": "sample"}, "x": {"datum": 3819, "type": "quantitative"}, "y": {"datum": 0.247, "type": "quantitative"}}}
         ]}
      ]
    },
    {
      "data": {"name": "curves"},
      "transform": [{"filter": "datum.sample === 'HG'"}],
      "encoding": {
        "x": {"field": "age", "type": "quantitative", "scale": {"domain": [1800, 4000], "nice": false}, "title": "age (Ma)", "axis": {"values": [2000, 2500, 3000, 3500, 4000], "format": "d"}},
        "y": {"field": "density", "type": "quantitative", "scale": {"domain": [-0.113, 13.077], "nice": false, "zero": false}, "axis": null}
      },
      "layer": [
        {"mark": {"type": "area", "interpolate": "monotone", "color": "#9e88c3"}, "encoding": {"y2": {"datum": 0}}},
        {"mark": {"type": "line", "interpolate": "monotone", "color": "black", "strokeWidth": 2}},
        {"transform": [{"filter": "datum.age === 4000"}, {"lookup": "sample", "from": {"data": {"name": "samples"}, "key": "sample", "fields": ["n"]}}],
         "layer": [
           {"mark": "text", "encoding": {"text": {"field": "n"}, "x": {"datum": 3819, "type": "quantitative"}, "y": {"datum": 0.454, "type": "quantitative"}}},
           {"mark": "text", "encoding": {"text": {"field": "sample"}, "x": {"datum": 3819, "type": "quantitative"}, "y": {"datum": 0.167, "type": "quantitative"}}}
         ]}
      ]
    },
    {
      "data": {"name": "refs"},
      "mark": {"type": "rule", "color": "#555555", "strokeWidth": 1.5, "strokeDash": [12, 14]},
      "encoding": {
        "x": {"field": "age", "type": "quantitative", "scale": {"domain": [1800, 4000], "nice": false}, "title": "age (Ma)", "axis": {"values": [2000, 2500, 3000, 3500, 4000], "format": "d"}}
      }
    }
  ]
}
